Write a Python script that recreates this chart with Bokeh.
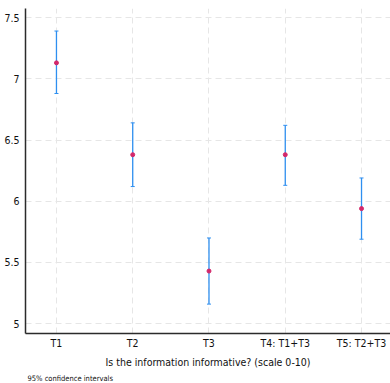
import numpy as np
from bokeh.plotting import figure
from bokeh.models import Whisker, ColumnDataSource, FixedTicker, Title, Range1d
from bokeh.embed import file_html
from bokeh.resources import INLINE

# Mean ratings with 95% confidence bounds per treatment group
groups = ["T1", "T2", "T3", "T4: T1+T3", "T5: T2+T3"]
means = [7.13, 6.38, 5.43, 6.38, 5.94]
lower = [6.88, 6.12, 5.16, 6.13, 5.69]
upper = [7.39, 6.64, 5.70, 6.62, 6.19]
y_ticks = [5, 5.5, 6, 6.5, 7, 7.5]

FONT = "'Liberation Sans Narrow', 'DejaVu Sans Condensed', 'Roboto Condensed', 'Liberation Sans', sans-serif"
INK = "#2b2b2b"

xs = list(range(1, len(groups) + 1))
src = ColumnDataSource(dict(x=xs, mean=means, lo=lower, hi=upper))

p = figure(width=390, height=383, output_backend="svg", toolbar_location=None,
           x_range=Range1d(0.594, 5.38), y_range=Range1d(4.92, 7.574),
           min_border_left=25, min_border_right=0, min_border_top=8,
           min_border_bottom=0)
p.outline_line_color = None
p.background_fill_color = "white"

# grid
p.xgrid.ticker = FixedTicker(ticks=xs)
p.ygrid.ticker = FixedTicker(ticks=y_ticks)
for g in (p.xgrid, p.ygrid):
    g.grid_line_color = "#e6e6e6"
    g.grid_line_dash = "6 4"
    g.grid_line_width = 1

# axes
p.xaxis.ticker = FixedTicker(ticks=xs)
p.xaxis.major_label_overrides = {x: g for x, g in zip(xs, groups)}
p.xaxis.major_tick_out = 0
p.xaxis.major_tick_in = 0
p.xaxis.minor_tick_line_color = None
p.xaxis.major_label_standoff = 3
p.xaxis.axis_label = "Is the information informative? (scale 0-10)"
p.xaxis.axis_label_standoff = 4
p.xaxis.axis_label_text_font_style = "normal"

p.yaxis.ticker = FixedTicker(ticks=y_ticks)
p.yaxis.major_label_overrides = {5: "5", 5.5: "5.5", 6: "6", 6.5: "6.5", 7: "7", 7.5: "7.5"}
p.yaxis.major_tick_out = 5
p.yaxis.major_tick_in = 0
p.yaxis.minor_tick_line_color = None
p.yaxis.major_label_standoff = 1

for ax in (p.xaxis, p.yaxis):
    ax.axis_line_color = INK
    ax.axis_line_width = 1.5
    ax.major_tick_line_color = INK if ax is p.yaxis else None
    ax.major_label_text_font = FONT
    ax.major_label_text_font_size = "10.5px"
    ax.major_label_text_color = "#111111"
    ax.axis_label_text_font = FONT
    ax.axis_label_text_font_size = "10.5px"
    ax.axis_label_text_color = "#111111"

# confidence interval bars
w = Whisker(source=src, base="x", lower="lo", upper="hi", dimension="height",
            line_color="#2e8ff0", line_width=1.3)
w.upper_head.size = 4
w.lower_head.size = 4
w.upper_head.line_color = "#2e8ff0"
w.lower_head.line_color = "#2e8ff0"
p.add_layout(w)

p.scatter("x", "mean", source=src, size=4, color="#d4286a")

note = Title(text="95% confidence intervals", align="left", text_font=FONT,
             text_font_size="7.5px", text_font_style="normal", text_color="#111111",
             offset=2, standoff=2)
p.add_layout(note, "below")

open("out.html", "w").write(file_html(p, INLINE))
